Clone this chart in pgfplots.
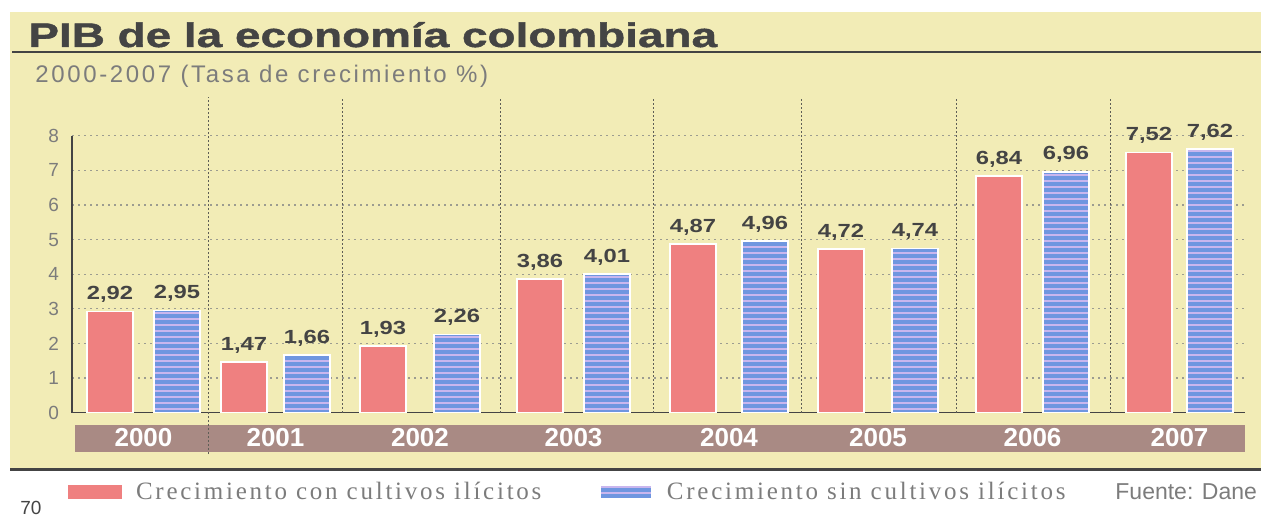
\documentclass[border=0pt]{standalone}
\usepackage{fontspec}
\setmainfont{Liberation Sans}
\newfontfamily\titlefont[FakeStretch=1.35,FakeBold=1.3]{Liberation Sans Bold}
\newfontfamily\valfont[FakeStretch=1.25]{Liberation Sans Bold}
\newfontfamily\subfont[LetterSpace=11]{Liberation Sans}
\newfontfamily\legfont[LetterSpace=11]{Liberation Serif}
\usepackage{pgfplots}
\pgfplotsset{compat=1.18}
\usetikzlibrary{patterns.meta}

\definecolor{bgyellow}{HTML}{F2ECB6}
\definecolor{barred}{HTML}{EF8080}
\definecolor{barblue}{HTML}{6F96E0}
\definecolor{stripe}{HTML}{C9B6EE}
\definecolor{bandc}{HTML}{A98A84}
\definecolor{darkg}{HTML}{444444}
\definecolor{midg}{HTML}{7C7C7C}
\definecolor{gridc}{HTML}{9C9C90}
\definecolor{divc}{HTML}{5E5E56}

\begin{document}
\begin{tikzpicture}
\begin{axis}[
  set layers,
  at={(36pt,52.15pt)}, anchor=south west,
  scale only axis, width=586.5pt, height=138.5pt,
  xmin=72, xmax=1245, ymin=0, ymax=8,
  clip=false,
  axis x line*=bottom, axis y line*=left,
  axis line style={darkg,line width=0.6pt},
  x axis line style={-}, y axis line style={-},
  ytick={0,1,2,3,4,5,6,7,8},
  yticklabels={0,1,2,3,4,5,6,7,8},
  ymajorgrids, grid style={gridc,line width=0.6pt,dash pattern=on 0.8pt off 2.2pt},
  major tick length=0pt,
  xtick={143.5,275.5,420,573.5,729,878,1032.5,1179.5},
  xticklabels={2000,2001,2002,2003,2004,2005,2006,2007},
  xticklabel style={anchor=center,yshift=-12.65pt,text=white,font=\bfseries\fontsize{13}{14}\selectfont},
  yticklabel style={text=midg,font=\fontsize{9.5}{11}\selectfont,xshift=-3pt},
  legend columns=2,
  legend style={at={(-0.0034,-0.286)},anchor=west,draw=none,fill=none,inner sep=0pt,
     text=midg, font=\fontsize{12.5}{14}\selectfont,
     nodes={inner sep=0pt},
     /tikz/every odd column/.append style={column sep=7pt},
     /tikz/every even column/.append style={column sep=29pt}},
]
\pgfplotsextra{%
\begin{pgfonlayer}{axis background}
\fill[bgyellow] (axis cs:10,-1.655) rectangle (axis cs:1261,11.57);
\fill[bandc] (axis cs:75,-0.355) rectangle (axis cs:1245,-1.135);
\end{pgfonlayer}}
\draw[divc,line width=0.5pt,dash pattern=on 1pt off 1pt] (axis cs:208,-1.2) -- (axis cs:208,9.12);
\draw[divc,line width=0.5pt,dash pattern=on 1pt off 1pt] (axis cs:342,0) -- (axis cs:342,9.12);
\draw[divc,line width=0.5pt,dash pattern=on 1pt off 1pt] (axis cs:500,0) -- (axis cs:500,9.12);
\draw[divc,line width=0.5pt,dash pattern=on 1pt off 1pt] (axis cs:653,0) -- (axis cs:653,9.12);
\draw[divc,line width=0.5pt,dash pattern=on 1pt off 1pt] (axis cs:801,0) -- (axis cs:801,9.12);
\draw[divc,line width=0.5pt,dash pattern=on 1pt off 1pt] (axis cs:956,0) -- (axis cs:956,9.12);
\draw[divc,line width=0.5pt,dash pattern=on 1pt off 1pt] (axis cs:1110,0) -- (axis cs:1110,9.12);
\addplot[ybar, bar width=23pt, bar shift=0pt, fill=barred, draw=white, line width=0.8pt,
  nodes near coords={\pgfmathprintnumber[fixed,fixed zerofill,precision=2,use comma,assume math mode=true]{\pgfplotspointmeta}},
  nodes near coords style={font=\fontsize{9.5}{11}\valfont, text=darkg, anchor=south, inner sep=1pt, yshift=3pt},
  legend image code/.code={\fill[barred] (0pt,-3.25pt) rectangle (26pt,3.25pt);}]
  coordinates {(110,2.92) (244,1.47) (383,1.93) (540,3.86) (693,4.87) (841,4.72) (999,6.84) (1149,7.52)};
\addlegendentry{\legfont Crecimiento con cultivos ilícitos}
\addplot[ybar, bar width=23pt, bar shift=0pt, fill=barblue, draw=white, line width=0.8pt,
  postaction={pattern={Lines[angle=0,distance=3pt,line width=1.3pt]}, pattern color=stripe},
  nodes near coords={\pgfmathprintnumber[fixed,fixed zerofill,precision=2,use comma,assume math mode=true]{\pgfplotspointmeta}},
  nodes near coords style={font=\fontsize{9.5}{11}\valfont, text=darkg, anchor=south, inner sep=1pt, yshift=3pt},
  legend image code/.code={\fill[barblue] (0pt,-3.25pt) rectangle (26pt,3.25pt);
     \fill[pattern={Lines[angle=0,distance=3pt,line width=1.3pt]}, pattern color=stripe] (0pt,-3.25pt) rectangle (26pt,3.25pt);}]
  coordinates {(177,2.95) (307,1.66) (457,2.26) (607,4.01) (765,4.96) (915,4.74) (1066,6.96) (1210,7.62)};
\addlegendentry{\legfont Crecimiento sin cultivos ilícitos}
\end{axis}
\node[anchor=base west,inner sep=0pt,text=darkg] at (14pt,235pt) {\fontsize{17}{20}\titlefont PIB de la economía colombiana};
\draw[darkg,line width=0.8pt] (6pt,232.5pt) -- (630.5pt,232.5pt);
\node[anchor=base west,inner sep=0pt,text=midg] at (17.5pt,217pt) {\fontsize{12}{14}\subfont 2000-2007 (Tasa de crecimiento \%)};
\draw[darkg,line width=1.5pt] (5pt,23.5pt) -- (630.5pt,23.5pt);
\node[anchor=west,inner sep=0pt,text=midg] at (557.5pt,12.5pt) {\fontsize{11.5}{13}\selectfont Fuente: Dane};
\node[anchor=north west,inner sep=0pt,text=darkg] at (10pt,8pt) {\fontsize{9.5}{11}\selectfont 70};
\pgfresetboundingbox
\useasboundingbox (0pt,0pt) rectangle (630.5pt,258.5pt);
\end{tikzpicture}
\end{document}
